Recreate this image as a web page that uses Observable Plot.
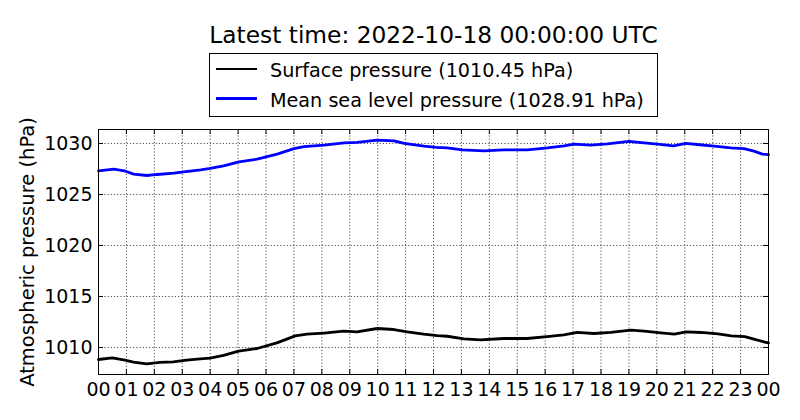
<!DOCTYPE html>
<html><head><meta charset="utf-8">
<script src="https://cdn.jsdelivr.net/npm/d3@7"></script>
<script src="https://cdn.jsdelivr.net/npm/@observablehq/plot@0.6"></script>
<style>
body{margin:0;background:#fff;}
#wrap{position:relative;width:800px;height:420px;font-family:"DejaVu Sans",sans-serif;color:#000;overflow:hidden;}
#wrap svg{position:absolute;left:0;top:0;}
.abs{position:absolute;white-space:nowrap;}
#title{left:433.5px;top:22.6px;transform:translateX(-50%);font-size:23.3px;line-height:23.3px;}
#legend{left:209px;top:53px;width:449px;height:64px;box-sizing:border-box;border:1px solid #000;background:#fff;}
.swatch{width:41px;height:2.8px;}
.ltext{font-size:19.2px;line-height:19.2px;}
</style></head><body><div id="wrap"></div>
<script>
const titleText = "Latest time: 2022-10-18 00:00:00 UTC";
const seriesNames = ["Surface pressure (1010.45 hPa)", "Mean sea level pressure (1028.91 hPa)"];
const seriesColors = ["black", "blue"];
const yLabel = "Atmospheric pressure (hPa)";
const xTicks = [0,1,2,3,4,5,6,7,8,9,10,11,12,13,14,15,16,17,18,19,20,21,22,23,24];
const yTicks = [1010, 1015, 1020, 1025, 1030];

const surfaceHours = [0,0.49,0.95,1.25,1.73,2.2,2.68,3.16,3.64,4.0,4.48,5.02,5.68,6.39,7.05,7.47,8.07,8.78,9.26,9.98,10.58,11.06,11.65,12.13,12.49,13.09,13.68,14.52,15.35,16.07,16.67,17.15,17.75,18.35,19.07,19.55,20.15,20.63,21.05,21.59,22.19,22.67,23.15,23.51,23.87,24.0];
const surfaceValues = [1008.82,1008.98,1008.75,1008.56,1008.39,1008.53,1008.59,1008.75,1008.88,1008.95,1009.22,1009.64,1009.9,1010.45,1011.14,1011.3,1011.4,1011.6,1011.53,1011.86,1011.76,1011.53,1011.3,1011.17,1011.1,1010.85,1010.75,1010.88,1010.88,1011.07,1011.24,1011.47,1011.37,1011.47,1011.7,1011.6,1011.43,1011.3,1011.53,1011.47,1011.33,1011.14,1011.07,1010.8,1010.52,1010.45];

const mslpHours = [0,0.55,0.97,1.26,1.74,2.1,2.7,3.05,3.66,4.0,4.48,5.03,5.68,6.4,7.0,7.36,8.08,8.8,9.27,9.99,10.59,10.95,11.66,12.1,12.49,13.03,13.8,14.53,15.37,16.08,16.68,17.04,17.63,18.23,19.0,19.54,20.02,20.6,21.03,21.45,22.05,22.65,23.12,23.48,23.78,24.0];
const mslpValues = [1027.31,1027.48,1027.28,1026.99,1026.86,1026.96,1027.09,1027.22,1027.41,1027.55,1027.8,1028.2,1028.46,1028.95,1029.5,1029.7,1029.83,1030.06,1030.1,1030.32,1030.26,1030.0,1029.74,1029.62,1029.57,1029.38,1029.28,1029.38,1029.38,1029.57,1029.77,1029.93,1029.83,1029.96,1030.2,1030.06,1029.93,1029.77,1030.0,1029.9,1029.74,1029.57,1029.5,1029.25,1028.95,1028.91];

const surface = surfaceHours.map((h, i) => ({h, v: surfaceValues[i]}));
const mslp = mslpHours.map((h, i) => ({h, v: mslpValues[i]}));
const fmtHour = d => String(d % 24).padStart(2, "0");
const gridStyle = {stroke: "black", strokeOpacity: 0.85, strokeWidth: 0.8, strokeDasharray: "1.2,2"};

const chart = Plot.plot({
  width: 800, height: 420,
  marginLeft: 98, marginRight: 32, marginTop: 129, marginBottom: 46,
  style: {fontFamily: "DejaVu Sans", fontSize: "19px", color: "black", background: "transparent", overflow: "visible"},
  x: {domain: [0, 24]},
  y: {domain: [1007.35, 1031.37]},
  marks: [
    Plot.gridX(xTicks, gridStyle),
    Plot.gridY(yTicks, gridStyle),
    Plot.line(surface, {x: "h", y: "v", stroke: seriesColors[0], strokeWidth: 2.8}),
    Plot.line(mslp, {x: "h", y: "v", stroke: seriesColors[1], strokeWidth: 2.8}),
    Plot.tickX(xTicks, {x: d => d, insetTop: 240, stroke: "black"}),
    Plot.tickX(xTicks, {x: d => d, insetBottom: 240, stroke: "black"}),
    Plot.tickY(yTicks, {y: d => d, insetRight: 665, stroke: "black"}),
    Plot.tickY(yTicks, {y: d => d, insetLeft: 665, stroke: "black"}),
    Plot.axisX(xTicks, {tickSize: 0, tickPadding: 8, label: null, tickFormat: fmtHour}),
    Plot.axisY(yTicks, {tickSize: 0, tickPadding: 6, label: null, tickFormat: d => String(d)}),
    Plot.frame({stroke: "black", strokeWidth: 1}),
    Plot.text([yLabel], {text: d => d, frameAnchor: "left", rotate: -90, dx: -65, textAnchor: "middle", lineAnchor: "bottom", fontSize: 19.5, fill: "black"})
  ]
});

const wrap = document.getElementById("wrap");
wrap.appendChild(chart);

const t = document.createElement("div");
t.id = "title"; t.className = "abs"; t.textContent = titleText;
wrap.appendChild(t);

const lg = document.createElement("div");
lg.id = "legend"; lg.className = "abs";
wrap.appendChild(lg);

const swatchY = [69, 98.3];
const textTop = [61.1, 90.5];
seriesNames.forEach((name, i) => {
  const s = document.createElement("div");
  s.className = "abs swatch";
  s.style.left = "216px";
  s.style.top = (swatchY[i] - 1.4) + "px";
  s.style.background = seriesColors[i];
  wrap.appendChild(s);
  const tx = document.createElement("div");
  tx.className = "abs ltext";
  tx.style.left = "270px";
  tx.style.top = textTop[i] + "px";
  tx.textContent = name;
  wrap.appendChild(tx);
});
</script>
</body></html>
